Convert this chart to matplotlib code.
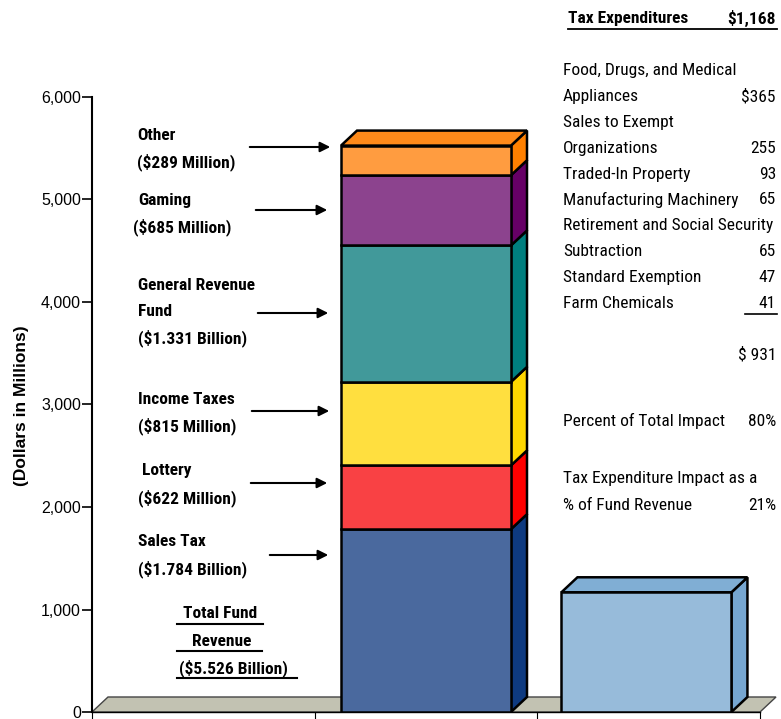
#!/usr/bin/env python3

import matplotlib
matplotlib.use('Agg')
import matplotlib.pyplot as plt
from matplotlib import font_manager
from matplotlib.patches import Polygon, FancyArrowPatch

# Fund revenue pieces (millions of dollars), bottom to top.
sources = ['Sales Tax', 'Lottery', 'Income Taxes', 'General Revenue Fund', 'Gaming', 'Other']
amounts = [1784, 622, 815, 1331, 685, 289]
front_cols = ['#4A699E', '#F94144', '#FFDF3F', '#41999A', '#8C438E', '#FF9C40']
side_cols = ['#0E3A80', '#FF0000', '#FFD700', '#007F7F', '#660066', '#FF8000']
top_col = '#FF8A1A'

tax_exp_total = 1168
tax_front, tax_side, tax_top = '#97BBDA', '#76A6D0', '#80AED4'

# Label text beside the stacked bar.
label_lines = [
    ['Sales Tax', '($1.784 Billion)'],
    ['Lottery', '($622 Million)'],
    ['Income Taxes', '($815 Million)'],
    ['General Revenue', 'Fund', '($1.331 Billion)'],
    ['Gaming', '($685 Million)'],
    ['Other', '($289 Million)'],
]
total_lines = ['Total Fund', 'Revenue', '($5.526 Billion)']

# Tax expenditure breakdown table.
exp_rows = [
    ('Food, Drugs, and Medical', ''),
    ('Appliances', '$365'),
    ('Sales to Exempt', ''),
    ('Organizations', '255'),
    ('Traded-In Property', '93'),
    ('Manufacturing Machinery', '65'),
    ('Retirement and Social Security', ''),
    ('Subtraction', '65'),
    ('Standard Exemption', '47'),
    ('Farm Chemicals', '41'),
]
exp_subtotal = '$ 931'
pct_total = '80%'
pct_fund = '21%'

plt.rcParams['font.family'] = ['Liberation Sans', 'DejaVu Sans']

# prefer a condensed face for the notes if one is around
have = {f.name for f in font_manager.fontManager.ttflist}
narrow_name = 'Liberation Sans'
for cand in ['Liberation Sans Narrow', 'Arial Narrow', 'Roboto Condensed',
             'Open Sans Condensed', 'DejaVu Sans Condensed']:
    if cand in have:
        narrow_name = cand
        break
narrow = [narrow_name, 'DejaVu Sans']

W, H = 781, 719
fig = plt.figure(figsize=(W / 100, H / 100), dpi=100)
renderer = fig.canvas.get_renderer()


def fit_size(s, target_px, weight='normal', base=12.0, cap=12.5):
    t = fig.text(0, 0, s, fontsize=base, fontweight=weight, family=narrow)
    w = t.get_window_extent(renderer).width
    t.remove()
    return min(cap, base * target_px / w)


fs_reg = fit_size('Retirement and Social Security', 213)
fs_bold = fit_size('($1.331 Billion)', 109, 'bold')

ax = fig.add_axes([92 / W, 7 / H, 668 / W, 615 / H])
ax.set_xlim(0, 3)
ax.set_ylim(0, 6000)

# depth of the 3-D look, in data units
dx = 16 / 668 * 3
dy = 15 / 615 * 6000


def box(x0, width, bottom, height, front, side, top=None):
    ax.bar(x0, height, width=width, bottom=bottom, align='edge',
           color=front, edgecolor='black', linewidth=1.8, zorder=3)
    x1 = x0 + width
    y1 = bottom + height
    ax.add_patch(Polygon([(x1, bottom), (x1 + dx, bottom + dy), (x1 + dx, y1 + dy), (x1, y1)],
                         closed=True, facecolor=side, edgecolor='black', lw=1.8, zorder=2))
    if top is not None:
        ax.add_patch(Polygon([(x0, y1), (x0 + dx, y1 + dy), (x1 + dx, y1 + dy), (x1, y1)],
                             closed=True, facecolor=top, edgecolor='black', lw=1.8, zorder=2))


# floor
ax.add_patch(Polygon([(0, 0), (dx, dy), (3 + dx, dy), (3, 0)], closed=True,
                     facecolor='#C2C2B2', edgecolor='#444444', lw=1.0, zorder=1,
                     clip_on=False))

bar_w = 170 / 668 * 3
x_left = 1.5 - bar_w / 2
bottom = 0
for i, (amt, fc, sc) in enumerate(zip(amounts, front_cols, side_cols)):
    box(x_left, bar_w, bottom, amt, fc, sc, top_col if i == len(amounts) - 1 else None)
    bottom += amt

box(2.5 - bar_w / 2 - 0.01, bar_w, 0, tax_exp_total, tax_front, tax_side, tax_top)

for s in ['top', 'right']:
    ax.spines[s].set_visible(False)
ax.spines['left'].set_linewidth(1.5)
ax.spines['bottom'].set_linewidth(1.0)
ax.set_yticks(range(0, 6001, 1000))
ax.set_yticklabels([f'{v:,}' for v in range(0, 6001, 1000)], fontsize=11.5)
ax.set_xticks([0, 1, 2, 3])
ax.set_xticklabels([])
ax.tick_params(axis='y', length=7, width=1.2, pad=1)
ax.tick_params(axis='x', length=5, width=0.8)
for sp in ax.spines.values():
    sp.set_clip_on(False)

fig.text(22 / W, 1 - 406 / H, '(Dollars in Millions)', rotation=90, ha='center',
         va='center', fontsize=12.5, fontweight='bold')

# labels and arrows, positions in pixels
lab_pos = [(138, 542, 267, 331, 555), (142, 471, 248, 330, 483),
           (138, 399, 249, 332, 411), (138, 285, 255, 331, 313),
           (138, 200, 253, 330, 210), (137, 135, 247, 333, 147)]
for lines, (tx, ty, ax0, ax1, ay) in zip(label_lines, lab_pos):
    for k, line in enumerate(lines):
        xo = tx - 5 if line == '($685 Million)' else (tx - 4 if line == '($622 Million)' else tx)
        fig.text(xo / W, 1 - (ty + 26.7 * k) / H, line, ha='left', va='center',
                 fontsize=fs_bold, fontweight='bold', family=narrow)
    fig.patches.append(FancyArrowPatch(
        (ax0 / W, 1 - ay / H), (ax1 / W, 1 - ay / H), transform=fig.transFigure,
        arrowstyle='-|>', mutation_scale=15, color='black', lw=1.5))

total_x = [220, 222, 233]
rule_x = [(177, 263), (177, 262), (177, 297)]
for k, line in enumerate(total_lines):
    fig.text(total_x[k] / W, 1 - (614 + 27 * k) / H, line, ha='center', va='center',
             fontsize=fs_bold, fontweight='bold', family=narrow)
    fig.add_artist(plt.Line2D([rule_x[k][0] / W, rule_x[k][1] / W],
                              [1 - (624 + 27 * k) / H] * 2, color='black', lw=1.5))

# tax expenditure table
fig.text(568 / W, 1 - 18 / H, 'Tax Expenditures', ha='left', va='center',
         fontsize=fs_bold, fontweight='bold', family=narrow)
fig.text(776 / W, 1 - 18 / H, f'${tax_exp_total:,}', ha='right', va='center',
         fontsize=fs_bold, fontweight='bold', family=narrow)
fig.add_artist(plt.Line2D([568 / W, 777 / W], [1 - 29 / H] * 2, color='black', lw=1.3))

for k, (name, val) in enumerate(exp_rows):
    y = 1 - (71 + 25.8 * k) / H
    fig.text(563 / W, y, name, ha='left', va='center', fontsize=fs_reg, family=narrow)
    if val:
        fig.text(776 / W, y, val, ha='right', va='center', fontsize=fs_reg, family=narrow)
fig.add_artist(plt.Line2D([745 / W, 777 / W], [1 - 314 / H] * 2, color='black', lw=1.2))

fig.text(776 / W, 1 - 355 / H, exp_subtotal, ha='right', va='center', fontsize=fs_reg, family=narrow)
fig.text(563 / W, 1 - 421 / H, 'Percent of Total Impact', ha='left', va='center',
         fontsize=fs_reg, family=narrow)
fig.text(776 / W, 1 - 421 / H, pct_total, ha='right', va='center', fontsize=fs_reg, family=narrow)
fig.text(563 / W, 1 - 478 / H, 'Tax Expenditure Impact as a', ha='left', va='center',
         fontsize=fs_reg, family=narrow)
fig.text(563 / W, 1 - 505 / H, '% of Fund Revenue', ha='left', va='center',
         fontsize=fs_reg, family=narrow)
fig.text(776 / W, 1 - 505 / H, pct_fund, ha='right', va='center', fontsize=fs_reg, family=narrow)

fig.savefig('out.png', dpi=100)
